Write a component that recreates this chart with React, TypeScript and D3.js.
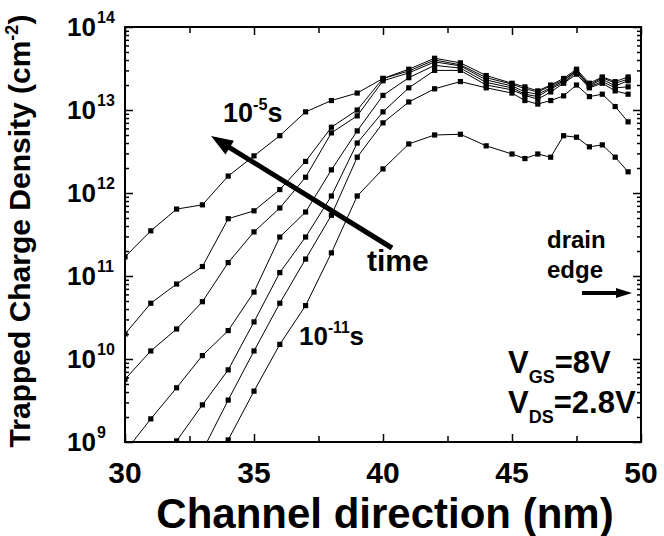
import React, { useEffect, useRef } from "react";
import * as d3 from "d3";

// position along the channel (nm)
const positions = [30, 31, 32, 33, 34, 35, 36, 37, 38, 39, 40, 41, 42, 43, 44, 45, 45.5, 46, 46.5, 47, 47.5, 48, 48.5, 49, 49.5];

// trapped charge density (cm^-2), one array per stress time
const t1e5 = [1.7e11, 3.5e11, 6.4e11, 7.2e11, 1.6e12, 2.8e12, 4.9e12, 9.5e12, 1.3e13, 1.6e13, 2.4e13, 3.1e13, 4.2e13, 3.7e13, 2.6e13, 2.1e13, 1.9e13, 1.7e13, 2.0e13, 2.4e13, 3.1e13, 2.1e13, 2.5e13, 2.2e13, 2.5e13];
const t1e6 = [2.0e10, 4.7e10, 8.0e10, 1.3e11, 4.9e11, 6.1e11, 1.1e12, 2.4e12, 6.2e12, 1.0e13, 2.4e13, 2.95e13, 4.0e13, 3.5e13, 2.45e13, 2.05e13, 1.8e13, 1.65e13, 1.95e13, 2.3e13, 3.0e13, 2.0e13, 2.45e13, 2.1e13, 2.35e13];
const t1e7 = [5.7e9, 1.25e10, 2.3e10, 4.9e10, 1.45e11, 3.4e11, 6.6e11, 1.55e12, 5.3e12, 8.5e12, 2.25e13, 2.8e13, 3.8e13, 3.4e13, 2.3e13, 1.95e13, 1.65e13, 1.55e13, 1.85e13, 2.25e13, 2.95e13, 1.95e13, 2.35e13, 1.95e13, 2.25e13];
const t1e8 = [7.6e8, 1.9e9, 4.5e9, 1.1e10, 2.2e10, 6.4e10, 2.95e11, 5.9e11, 1.9e12, 5.6e12, 1.5e13, 2.45e13, 3.45e13, 3.2e13, 2.15e13, 1.85e13, 1.55e13, 1.45e13, 1.8e13, 2.15e13, 2.85e13, 1.9e13, 2.2e13, 1.85e13, 1.9e13];
const t1e9 = [null, null, 1.03e9, 2.8e9, 7.4e9, 2.8e10, 1.1e11, 2.95e11, 9.2e11, 4.0e12, 9.5e12, 1.85e13, 3.0e13, 3.0e13, 2.0e13, 1.75e13, 1.5e13, 1.35e13, 1.65e13, 2.1e13, 2.7e13, 1.85e13, 2.1e13, 1.7e13, 1.55e13];
const t1e10 = [null, null, null, 7.8e8, 3.2e9, 1.25e10, 4.7e10, 1.6e11, 5.4e11, 2.7e12, 7.0e12, 1.25e13, 1.8e13, 2.2e13, 1.85e13, 1.6e13, 1.3e13, 1.18e13, 1.3e13, 1.48e13, 2.0e13, 1.45e13, 1.55e13, 1.1e13, 7.2e12];
const t1e11 = [null, null, null, null, 1.06e9, 4.1e9, 1.5e10, 4.4e10, 1.9e11, 9.2e11, 1.95e12, 3.9e12, 5.0e12, 5.1e12, 3.7e12, 2.95e12, 2.6e12, 2.95e12, 2.7e12, 4.9e12, 4.7e12, 3.6e12, 3.8e12, 2.7e12, 1.8e12];

const series = [t1e5, t1e6, t1e7, t1e8, t1e9, t1e10, t1e11];

const xMajor = [30, 35, 40, 45, 50];
const xMinor = [32.5, 37.5, 42.5, 47.5];
const yExponents = [9, 10, 11, 12, 13, 14];

const FONT = "'Liberation Sans', Arial, Helvetica, sans-serif";

export default function App() {
  const ref = useRef<SVGSVGElement>(null);

  useEffect(() => {
    const svg = d3.select(ref.current);
    svg.selectAll("*").remove();

    const left = 125, right = 641, top = 27, bottom = 442;
    const x = d3.scaleLinear().domain([30, 50]).range([left, right]);
    const y = d3.scaleLog().domain([1e9, 1e14]).range([bottom, top]);

    svg.append("rect").attr("width", 664).attr("height", 536).attr("fill", "#fff");

    svg.append("defs").append("clipPath").attr("id", "plotclip")
      .append("rect").attr("x", left).attr("y", top).attr("width", right - left).attr("height", bottom - top);

    // ticks, all pointing inwards
    const yMajor = yExponents.map((e) => Math.pow(10, e));
    const yMinor = y.ticks().filter((v) => !yMajor.some((m) => Math.abs(v - m) / m < 1e-6));

    const tickStyle = (g: any) => {
      g.select(".domain").remove();
      g.selectAll("line").attr("stroke", "#000").attr("stroke-width", 1.5);
    };

    svg.append("g").attr("transform", `translate(0,${bottom})`)
      .call(d3.axisBottom(x).tickValues(xMajor).tickSize(-8).tickFormat(() => "")).call(tickStyle);
    svg.append("g").attr("transform", `translate(0,${bottom})`)
      .call(d3.axisBottom(x).tickValues(xMinor).tickSize(-6).tickFormat(() => "")).call(tickStyle);
    svg.append("g").attr("transform", `translate(0,${top})`)
      .call(d3.axisTop(x).tickValues(xMajor).tickSize(-8).tickFormat(() => "")).call(tickStyle);
    svg.append("g").attr("transform", `translate(0,${top})`)
      .call(d3.axisTop(x).tickValues(xMinor).tickSize(-6).tickFormat(() => "")).call(tickStyle);
    svg.append("g").attr("transform", `translate(${left},0)`)
      .call(d3.axisLeft(y).tickValues(yMajor).tickSize(-8).tickFormat(() => "")).call(tickStyle);
    svg.append("g").attr("transform", `translate(${left},0)`)
      .call(d3.axisLeft(y).tickValues(yMinor).tickSize(-4).tickFormat(() => "")).call(tickStyle);
    svg.append("g").attr("transform", `translate(${right},0)`)
      .call(d3.axisRight(y).tickValues(yMajor).tickSize(-8).tickFormat(() => "")).call(tickStyle);
    svg.append("g").attr("transform", `translate(${right},0)`)
      .call(d3.axisRight(y).tickValues(yMinor).tickSize(-4).tickFormat(() => "")).call(tickStyle);

    // data
    const plot = svg.append("g").attr("clip-path", "url(#plotclip)");
    const line = d3.line<number | null>()
      .defined((d) => d != null)
      .x((d, i) => x(positions[i]))
      .y((d) => y(d as number));

    series.forEach((s) => {
      plot.append("path").datum(s).attr("d", line as any)
        .attr("fill", "none").attr("stroke", "#000").attr("stroke-width", 1);
      plot.append("g").selectAll("rect")
        .data(s.map((v, i) => ({ v, p: positions[i] })).filter((d) => d.v != null))
        .enter().append("rect")
        .attr("x", (d) => x(d.p) - 2.6)
        .attr("y", (d) => y(d.v as number) - 2.6)
        .attr("width", 5.2).attr("height", 5.2)
        .attr("fill", "#000");
    });

    // frame
    svg.append("rect").attr("x", left).attr("y", top).attr("width", right - left).attr("height", bottom - top)
      .attr("fill", "none").attr("stroke", "#000").attr("stroke-width", 2);

    const txt = svg.append("g").attr("font-family", FONT).attr("font-weight", "bold").attr("fill", "#000");

    // y tick labels 10^n
    yExponents.forEach((e) => {
      const ty = y(Math.pow(10, e));
      txt.append("text").attr("x", 96).attr("y", ty + 9).attr("text-anchor", "end")
        .attr("font-size", 26).text("10");
      txt.append("text").attr("x", 97).attr("y", ty - 4).attr("font-size", 16).text(String(e));
    });

    // x tick labels
    xMajor.forEach((v) => {
      txt.append("text").attr("x", x(v)).attr("y", 483).attr("text-anchor", "middle")
        .attr("font-size", 30).text(String(v));
    });

    // axis titles
    txt.append("text").attr("x", (left + right) / 2 + 2).attr("y", 528).attr("text-anchor", "middle")
      .attr("font-size", 42).text("Channel direction (nm)");

    const yt = txt.append("text").attr("transform", "translate(30,231) rotate(-90)")
      .attr("text-anchor", "middle").attr("font-size", 30);
    yt.append("tspan").text("Trapped Charge Density (cm");
    yt.append("tspan").attr("font-size", 18).attr("dy", -12).text("-2");
    yt.append("tspan").attr("dy", 12).text(")");

    // annotations
    const power = (px: number, py: number, size: number, exp: string) => {
      const t = txt.append("text").attr("x", px).attr("y", py).attr("font-size", size);
      t.append("tspan").text("10");
      t.append("tspan").attr("font-size", size * 0.6).attr("dy", -size * 0.45).text(exp);
      t.append("tspan").attr("dy", size * 0.45).text("s");
    };
    power(223, 122, 27, "-5");
    power(299, 345, 26, "-11");

    txt.append("text").attr("x", 367).attr("y", 271).attr("font-size", 30).text("time");
    txt.append("text").attr("x", 547).attr("y", 248).attr("font-size", 24).text("drain");
    txt.append("text").attr("x", 547).attr("y", 278).attr("font-size", 24).text("edge");

    const sub = (px: number, py: number, main: string, s: string, rest: string) => {
      const t = txt.append("text").attr("x", px).attr("y", py).attr("font-size", 31);
      t.append("tspan").text(main);
      t.append("tspan").attr("font-size", 18).attr("dy", 10).text(s);
      t.append("tspan").attr("dy", -10).text(rest);
    };
    sub(508, 373, "V", "GS", "=8V");
    sub(508, 413, "V", "DS", "=2.8V");

    // arrows
    const arrow = (x0: number, y0: number, x1: number, y1: number, w: number, hl: number, hw: number) => {
      const dx = x1 - x0, dy = y1 - y0, len = Math.hypot(dx, dy);
      const ux = dx / len, uy = dy / len;
      const bx = x1 - ux * hl, by = y1 - uy * hl;
      svg.append("line").attr("x1", x0).attr("y1", y0).attr("x2", bx + ux * 2).attr("y2", by + uy * 2)
        .attr("stroke", "#000").attr("stroke-width", w);
      svg.append("path")
        .attr("d", `M${x1},${y1}L${bx - uy * hw},${by + ux * hw}L${bx + uy * hw},${by - ux * hw}Z`)
        .attr("fill", "#000");
    };
    arrow(392, 248, 211, 136, 5, 22, 8);
    arrow(582, 293, 632, 293, 4, 16, 5);
  }, []);

  return <svg ref={ref} width={664} height={536} style={{ position: "absolute", left: 0, top: 0 }} />;
}
